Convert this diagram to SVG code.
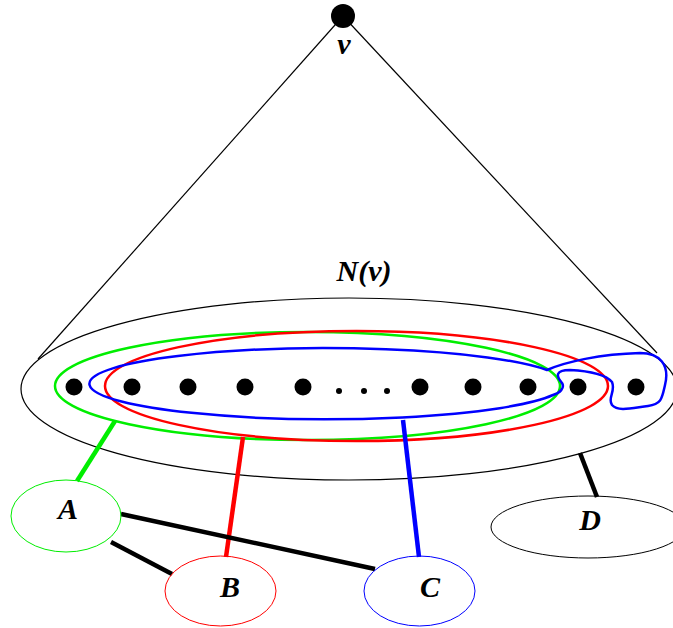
<svg xmlns="http://www.w3.org/2000/svg" width="673" height="628" viewBox="0 0 673 628">
<style>
.lbl{font-family:"Liberation Serif","Times New Roman",serif;font-weight:bold;font-style:italic;font-size:30px;text-anchor:middle;fill:#000}
.thin{fill:none;stroke:#000;stroke-width:1.2}
.dot{fill:#000}
.conn{fill:none;stroke-width:4.5;stroke-linecap:butt}
</style>
<rect width="673" height="628" fill="#fff"/>
<g id="spokes">
<line class="thin" x1="343" y1="16" x2="38" y2="359"/>
<line class="thin" x1="343" y1="16" x2="657" y2="353"/>
</g>
<g id="v">
<circle class="dot" cx="343" cy="16" r="12"/>
<text class="lbl" x="344" y="54">v</text>
</g>
<g id="Nv">
<ellipse class="thin" cx="349" cy="389" rx="328" ry="91"/>
<text class="lbl" x="364" y="281">N(v)</text>
</g>
<g id="sets">
<ellipse cx="307.5" cy="386" rx="252.5" ry="54" fill="none" stroke="#00ee00" stroke-width="2.5"/>
<ellipse cx="356.5" cy="386" rx="251.5" ry="55" fill="none" stroke="#ff0000" stroke-width="2.5"/>
<path d="M553,395 A238,35.5 0 1 1 547,370 C565,362 600,354 640,353 C660,353 670,365 665,385 C662,398 662,404 648,406 C632,408 618,412 612,405 C607,398 616,392 612,382 C605,374 590,371 570,370 C555,370 556,376 562,383 C565,388 560,393 553,395 Z" fill="none" stroke="#0000ff" stroke-width="2.5"/>
</g>
<g id="dots">
<circle class="dot" cx="74" cy="387" r="8.5"/>
<circle class="dot" cx="132" cy="387" r="8.5"/>
<circle class="dot" cx="188" cy="387" r="8.5"/>
<circle class="dot" cx="245" cy="387" r="8.5"/>
<circle class="dot" cx="303" cy="387" r="8.5"/>
<circle class="dot" cx="339" cy="391" r="3"/>
<circle class="dot" cx="364" cy="391" r="3"/>
<circle class="dot" cx="387" cy="391" r="3"/>
<circle class="dot" cx="420" cy="387" r="8.5"/>
<circle class="dot" cx="473" cy="387" r="8.5"/>
<circle class="dot" cx="528" cy="387" r="8.5"/>
<circle class="dot" cx="578" cy="387" r="8.5"/>
<circle class="dot" cx="636" cy="387" r="8.5"/>
</g>
<g id="connectors">
<line class="conn" stroke="#00ee00" x1="115" y1="421" x2="77" y2="481"/>
<line class="conn" stroke="#ff0000" x1="243" y1="437" x2="226" y2="557"/>
<line class="conn" stroke="#0000ff" x1="403" y1="420" x2="419" y2="557"/>
<line class="conn" stroke="#000" x1="580" y1="453" x2="597" y2="497"/>
<line class="conn" stroke="#000" stroke-width="5" x1="121" y1="514" x2="375" y2="569"/>
<line class="conn" stroke="#000" stroke-width="5" x1="111" y1="542" x2="172" y2="574"/>
</g>
<g id="A">
<ellipse cx="66" cy="516" rx="55" ry="36" fill="none" stroke="#00ee00" stroke-width="1"/>
<text class="lbl" x="68" y="519">A</text>
</g>
<g id="B">
<ellipse cx="220.5" cy="591" rx="55.5" ry="35" fill="none" stroke="#ff0000" stroke-width="1"/>
<text class="lbl" x="230" y="597">B</text>
</g>
<g id="C">
<ellipse cx="419.5" cy="591" rx="55.5" ry="35" fill="none" stroke="#0000ff" stroke-width="1"/>
<text class="lbl" x="430" y="597">C</text>
</g>
<g id="D">
<ellipse cx="588" cy="527" rx="97" ry="31" fill="none" stroke="#000" stroke-width="1"/>
<text class="lbl" x="590" y="530">D</text>
</g>
</svg>
